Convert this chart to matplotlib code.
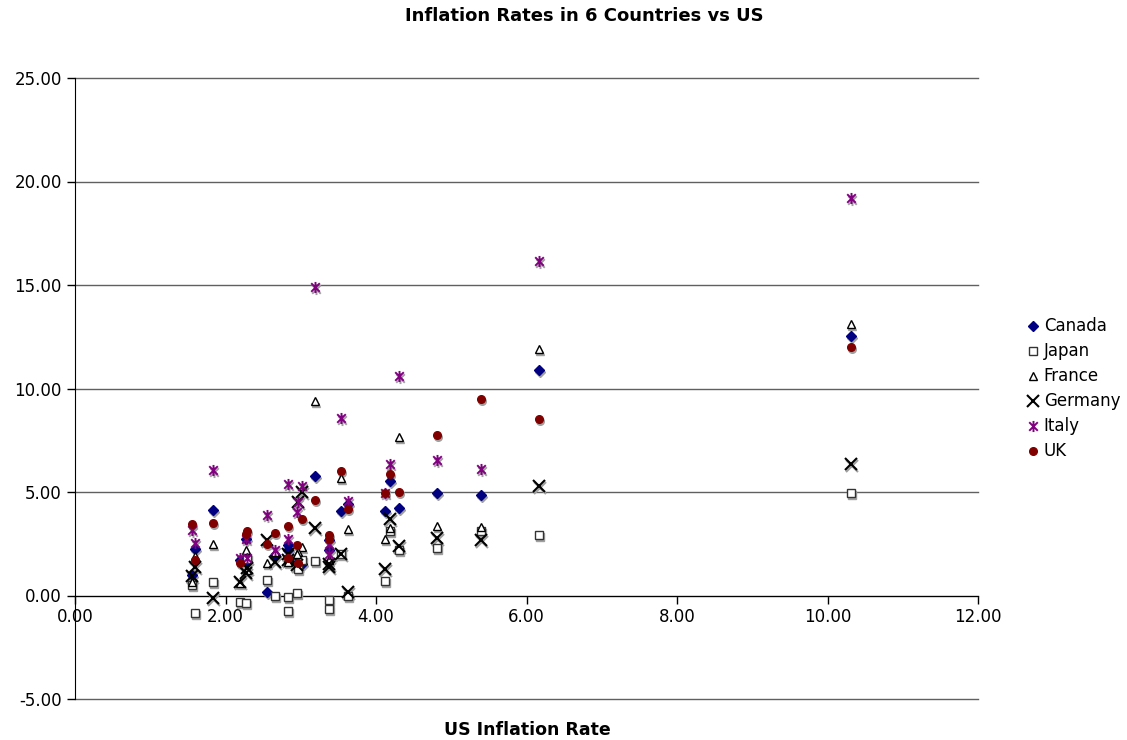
import matplotlib
matplotlib.use("Agg")
import matplotlib.pyplot as plt
from matplotlib.path import Path
from matplotlib.transforms import offset_copy

# ---- 数据：美国通胀率 与 6 国通胀率（按年份排列）----
us_rate = [10.31, 6.16, 3.19, 4.31, 3.54, 1.84, 3.63, 4.12, 4.81, 5.40,
           4.19, 3.01, 2.97, 2.55, 2.83, 2.95, 2.28, 1.55, 2.19, 3.37,
           2.83, 1.59, 2.27, 2.66, 3.37]

canada = [12.55, 10.87, 5.77, 4.25, 4.09, 4.12, 4.40, 4.09, 4.97, 4.84,
          5.53, 1.50, 1.87, 0.18, 2.20, 1.58, 1.60, 0.98, 1.70, 2.70,
          2.43, 2.27, 2.75, 1.94, 2.20]
japan = [4.95, 2.91, 1.68, 2.20, 2.00, 0.64, 0.00, 0.70, 2.30, 3.10,
         3.10, 1.70, 1.30, 0.74, -0.06, 0.10, 1.75, 0.50, -0.30, -0.63,
         -0.75, -0.86, -0.35, 0.00, -0.24]
france = [13.12, 11.91, 9.42, 7.65, 5.70, 2.51, 3.20, 2.74, 3.36, 3.30,
          3.28, 2.33, 2.10, 1.55, 1.80, 2.00, 1.25, 0.66, 0.60, 1.70,
          1.60, 1.90, 2.19, 2.10, 1.70]
germany = [6.37, 5.27, 3.28, 2.40, 2.00, -0.10, 0.16, 1.30, 2.80, 2.70,
           3.69, 5.00, 4.50, 2.70, 1.70, 1.45, 1.31, 0.95, 0.66, 1.50,
           2.00, 1.38, 1.07, 1.62, 1.40]
italy = [19.22, 16.17, 14.92, 10.58, 8.57, 6.08, 4.57, 4.97, 6.56, 6.13,
         6.37, 5.30, 4.50, 3.90, 5.40, 4.03, 1.79, 3.15, 1.79, 2.50,
         2.75, 2.54, 2.75, 2.19, 2.00]
uk = [12.00, 8.54, 4.60, 5.00, 6.00, 3.48, 4.20, 4.97, 7.73, 9.50,
      5.85, 3.70, 1.58, 2.50, 3.35, 2.45, 3.14, 3.47, 1.55, 2.90,
      1.79, 1.70, 2.98, 3.00, 2.75]

# 星号标记：X 加一条竖线
star_path = Path([(-1, -1), (1, 1), (-1, 1), (1, -1), (0, -1.3), (0, 1.3)],
                 [Path.MOVETO, Path.LINETO] * 3)

# (名称, 数据, 标记样式)
series = [
    ("Canada", canada, dict(marker="D", ms=5, mfc="#000080", mec="#000080", mew=1)),
    ("Japan", japan, dict(marker="s", ms=5.5, mfc="white", mec="#333333", mew=1)),
    ("France", france, dict(marker="^", ms=6, mfc="white", mec="black", mew=1)),
    ("Germany", germany, dict(marker="x", ms=8, mec="black", mew=1.5)),
    ("Italy", italy, dict(marker=star_path, ms=8, mec="#800080", mew=1.4)),
    ("UK", uk, dict(marker="o", ms=5.5, mfc="#800000", mec="#800000", mew=1)),
]

plt.rcParams["font.family"] = ["DejaVu Sans"]

fig = plt.figure(figsize=(11.27, 7.40), dpi=100)
ax = fig.add_axes([75 / 1127, 1 - 699 / 740, 903 / 1127, 621 / 740])

# 灰色阴影（略向右下偏移）
shadow = offset_copy(ax.transData, fig=fig, x=1.0, y=-2.0, units="dots")

for name, vals, style in series:
    sh = dict(style)
    sh["mec"] = "#a0a0a0"
    if "mfc" in sh:
        sh["mfc"] = "#a0a0a0"
    ax.plot(us_rate, vals, ls="none", transform=shadow, zorder=2, **sh)
for name, vals, style in series:
    ax.plot(us_rate, vals, ls="none", label=name, zorder=3, **style)

ax.set_xlim(0, 12)
ax.set_ylim(-5, 25)
ax.set_xticks(range(0, 13, 2))
ax.set_yticks(range(-5, 26, 5))
ax.xaxis.set_major_formatter(lambda v, p: f"{v:.2f}")
ax.yaxis.set_major_formatter(lambda v, p: f"{v:.2f}")

ax.yaxis.grid(True, color="#606060", lw=1)
for gl in ax.get_ygridlines():
    gl.set_clip_on(False)
ax.set_axisbelow(True)
for s in ("top", "right"):
    ax.spines[s].set_visible(False)
ax.spines["bottom"].set_position(("data", 0))
ax.spines["bottom"].set_zorder(1)
ax.spines["left"].set_color("black")
ax.spines["bottom"].set_color("black")
ax.tick_params(axis="both", labelsize=12, direction="out", length=6, width=1, color="black")
ax.tick_params(axis="x", pad=3)

fig.text(584 / 1127, 1 - 16 / 740, "Inflation Rates in 6 Countries vs US",
         ha="center", va="center", fontsize=13, fontweight="bold")
fig.text(527 / 1127, 1 - 730 / 740, "US Inflation Rate",
         ha="center", va="center", fontsize=12.5, fontweight="bold")

fig.legend(loc="center left", bbox_to_anchor=(1018 / 1127, 1 - 389 / 740),
           frameon=False, fontsize=12, handlelength=0.8, handletextpad=0.25,
           labelspacing=0.42, borderpad=0)

fig.savefig("out.png", dpi=100, facecolor="white")
